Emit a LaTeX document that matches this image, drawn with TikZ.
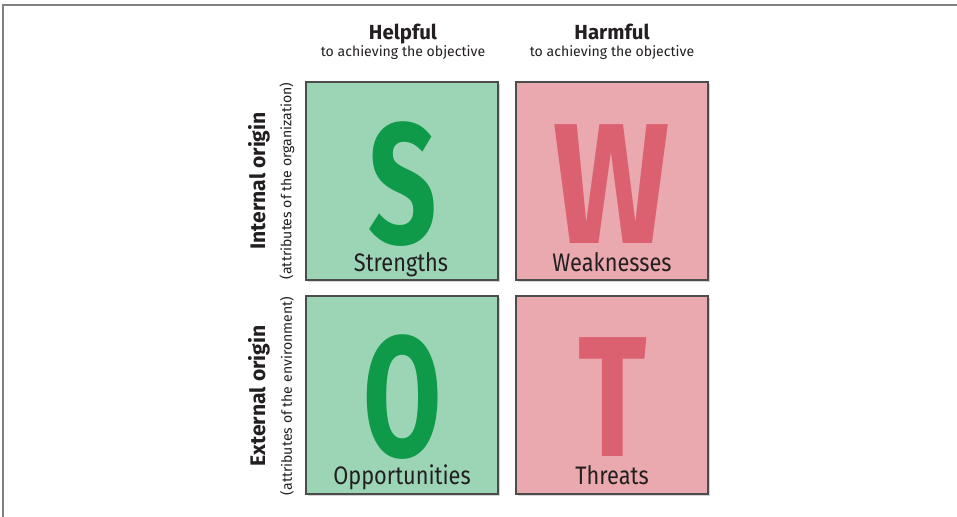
\documentclass[tikz,border=0pt]{standalone}
\usepackage{fontspec}
\setmainfont{Fira Sans}
\usetikzlibrary{shadows}

\definecolor{helpfill}{HTML}{9CD5B6}
\definecolor{helpink}{HTML}{0E9A48}
\definecolor{harmfill}{HTML}{E9A9AF}
\definecolor{harmink}{HTML}{DB6170}
\definecolor{labelink}{HTML}{231F20}

\begin{document}
\begin{tikzpicture}[x=0.025cm, y=-0.025cm,
    quadrant/.style={draw=black!70, line width=0.9pt, minimum width=4.8cm,
        minimum height=4.95cm, inner sep=0pt,
        drop shadow={shadow xshift=1.2pt, shadow yshift=-1.2pt, opacity=0.35}},
    bigletter/.style={inner sep=0pt, xscale=#1, transform shape,
        font=\fontsize{122}{122}\selectfont\bfseries},
    quadname/.style={anchor=base, text=labelink, xscale=0.86, transform shape,
        font=\fontsize{18}{18}\selectfont},
    colhead/.style={anchor=base, text=labelink, font=\fontsize{14.5}{14.5}\selectfont\bfseries},
    colsub/.style={anchor=base, text=labelink, font=\fontsize{10}{10}\selectfont},
    rowhead/.style={rotate=90, text=labelink, inner sep=0pt, font=\fontsize{15}{15}\selectfont\bfseries},
    rowsub/.style={rotate=90, text=labelink, inner sep=0pt, font=\fontsize{10}{10}\selectfont}]
    \useasboundingbox (0,0) rectangle (957,517);

    % frame
    \draw[gray, line width=1.1pt] (3,517) -- (3,5) -- (957,5);

    % column headings
    \node[colhead] (helpful) at (403,40) {Helpful};
    \node[colsub] (helpsub) at (403,57) {to achieving the objective};
    \node[colhead] (harmful) at (612,40) {Harmful};
    \node[colsub] (harmsub) at (612,57) {to achieving the objective};

    % row headings
    \node[rowhead] (internal) at (259,181) {Internal origin};
    \node[rowsub] (intsub) at (287,181) {(attributes of the organization)};
    \node[rowhead] (external) at (259,396) {External origin};
    \node[rowsub] (extsub) at (287,396) {(attributes of the environment)};

    % the four quadrants
    \node[quadrant, fill=helpfill] (str) at (402,181) {};
    \node[quadrant, fill=harmfill] (wea) at (612,181) {};
    \node[quadrant, fill=helpfill] (opp) at (402,395) {};
    \node[quadrant, fill=harmfill] (thr) at (612,395) {};

    \node[bigletter=0.7, text=helpink] (s) at (403,184) {S};
    \node[bigletter=0.8, text=harmink] (w) at (612,184) {W};
    \node[bigletter=0.66, text=helpink] (o) at (403,397) {O};
    \node[bigletter=0.74, text=harmink] (t) at (613,397) {T};

    \node[quadname] (strlab) at (401,272) {Strengths};
    \node[quadname] (wealab) at (612,272) {Weaknesses};
    \node[quadname] (opplab) at (402,484) {Opportunities};
    \node[quadname] (thrlab) at (612,484) {Threats};
\end{tikzpicture}
\end{document}
